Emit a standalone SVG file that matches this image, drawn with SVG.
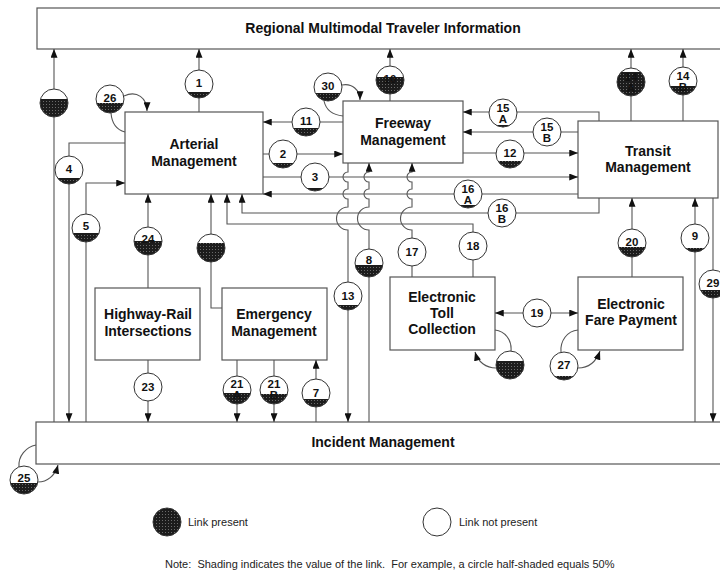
<svg xmlns="http://www.w3.org/2000/svg" xmlns:xlink="http://www.w3.org/1999/xlink" width="720" height="574" viewBox="0 0 720 574">
<style>
.box{fill:#fff;stroke:#555;stroke-width:1.2}
.bt{font-family:"Liberation Sans",Arial,sans-serif;font-weight:bold;font-size:14px;text-anchor:middle;fill:#111}
.c{fill:none;stroke:#555;stroke-width:1.1}
.cl{font-family:"Liberation Sans",Arial,sans-serif;font-weight:bold;font-size:11.5px;text-anchor:middle;fill:#111}
.lt{font-family:"Liberation Sans",Arial,sans-serif;font-size:11px;fill:#222}
.sh{fill:url(#stip)}
</style>
<defs>
<pattern id="stip" width="3" height="3" patternUnits="userSpaceOnUse"><rect width="3" height="3" fill="#1c1c1c"/><rect x="1" y="1" width="1" height="1" fill="#6a6a6a"/></pattern>
<marker id="ah" viewBox="0 0 10 8" refX="10" refY="4" markerWidth="9" markerHeight="7" markerUnits="userSpaceOnUse" orient="auto-start-reverse"><path d="M0,0 L10,4 L0,8 z" fill="#111"/></marker>
<circle id="cw" r="14" fill="#fff"/>
<circle id="co" r="14" fill="none" stroke="#333" stroke-width="1"/>
<path id="f2" class="sh" d="M-7.21,12 A14,14 0 0 0 7.21,12Z"/>
<path id="f3" class="sh" d="M-8.66,11 A14,14 0 0 0 8.66,11Z"/>
<path id="f4" class="sh" d="M-9.8,10 A14,14 0 0 0 9.8,10Z"/>
<path id="f5" class="sh" d="M-10.72,9 A14,14 0 0 0 10.72,9Z"/>
<path id="f6" class="sh" d="M-11.49,8 A14,14 0 0 0 11.49,8Z"/>
<path id="f7" class="sh" d="M-12.12,7 A14,14 0 0 0 12.12,7Z"/>
<path id="f8" class="sh" d="M-12.65,6 A14,14 0 0 0 12.65,6Z"/>
<path id="f9" class="sh" d="M-13.08,5 A14,14 0 0 0 13.08,5Z"/>
<path id="f10" class="sh" d="M-13.42,4 A14,14 0 0 0 13.42,4Z"/>
<path id="f11" class="sh" d="M-13.67,3 A14,14 0 0 0 13.67,3Z"/>
<path id="f12" class="sh" d="M-13.86,2 A14,14 0 0 0 13.86,2Z"/>
<path id="f14" class="sh" d="M-14,0 A14,14 0 0 0 14,0Z"/>
<path id="f17" class="sh" d="M-13.67,-3 A14,14 0 1 0 13.67,-3Z"/>
<path id="f18" class="sh" d="M-13.42,-4 A14,14 0 1 0 13.42,-4Z"/>
<path id="f19" class="sh" d="M-13.08,-5 A14,14 0 1 0 13.08,-5Z"/>
<path id="f24" class="sh" d="M-9.8,-10 A14,14 0 1 0 9.8,-10Z"/>
</defs>
<rect width="720" height="574" fill="#fff"/>

<g id="regional-multimodal-traveler-information"><rect class="box" x="37" y="8" width="700" height="41"/><text class="bt" x="383" y="33">Regional Multimodal Traveler Information</text></g>
<g id="incident-management"><rect class="box" x="36" y="422" width="700" height="42"/><text class="bt" x="383" y="447">Incident Management</text></g>
<g id="arterial-management"><rect class="box" x="125" y="112" width="138" height="82"/><text class="bt" x="194" y="149">Arterial</text><text class="bt" x="194" y="166">Management</text></g>
<g id="freeway-management"><rect class="box" x="343" y="101" width="120" height="62"/><text class="bt" x="403" y="128">Freeway</text><text class="bt" x="403" y="145">Management</text></g>
<g id="transit-management"><rect class="box" x="578" y="121" width="140" height="77"/><text class="bt" x="648" y="156">Transit</text><text class="bt" x="648" y="172">Management</text></g>
<g id="highway-rail-intersections"><rect class="box" x="95" y="288" width="105" height="72"/><text class="bt" x="148" y="319">Highway-Rail</text><text class="bt" x="148" y="336">Intersections</text></g>
<g id="emergency-management"><rect class="box" x="222" y="288" width="105" height="72"/><text class="bt" x="274" y="319">Emergency</text><text class="bt" x="274" y="336">Management</text></g>
<g id="electronic-toll-collection"><rect class="box" x="390" y="277" width="105" height="73"/><text class="bt" x="442" y="302">Electronic</text><text class="bt" x="442" y="318">Toll</text><text class="bt" x="442" y="334">Collection</text></g>
<g id="electronic-fare-payment"><rect class="box" x="578" y="277" width="105" height="73"/><text class="bt" x="631" y="309">Electronic</text><text class="bt" x="631" y="325">Fare Payment</text></g>

<g id="connectors" class="c" marker-end="url(#ah)">
<path d="M54,422 V49"/>
<path d="M199,112 V49"/>
<path d="M390,101 V49"/>
<path d="M631,121 V49"/>
<path d="M683,121 V49"/>
<path d="M343,122 H263"/>
<path d="M263,154 H343"/>
<path d="M263,177 H578"/>
<path d="M578,194 H263"/>
<path d="M599,121 V112 H463"/>
<path d="M578,132 H463"/>
<path d="M463,153 H578"/>
<path d="M599,198 V213 H242 V194"/>
<path d="M473,277 V224 H227 V194"/>
<path d="M125,143 H69 V422"/>
<path d="M86,422 V183 H125"/>
<path d="M148,288 V194"/>
<path d="M222,308 H211 V194"/>
<path d="M148,360 V422"/>
<path d="M237,360 V422"/>
<path d="M274,360 V422"/>
<path d="M316,422 V360"/>
<path d="M348,163 V172 A5,5 0 0 0 348,182 V189 A5,5 0 0 0 348,199 V207 A11.5,11.5 0 0 0 348,230 V422"/>
<path d="M369,422 V230 A11.5,11.5 0 0 1 369,207 V199 A5,5 0 0 1 369,189 V182 A5,5 0 0 1 369,172 V163"/>
<path d="M412,277 V230 A11.5,11.5 0 0 1 412,207 V199 A5,5 0 0 1 412,189 V182 A5,5 0 0 1 412,172 V163"/>
<path d="M632,277 V198"/>
<path d="M695,422 V198"/>
<path d="M713,198 V422"/>
<path d="M495,313 H578" marker-start="url(#ah)"/>
<path d="M124,96 C137,90 147,98 147,111"/>
<path d="M111,113 C112,125 117,130 125,132" marker-end="none"/>
<path d="M342,85 C352,83 360,90 360,100"/>
<path d="M324,101 C326,110 333,115 343,116" marker-end="none"/>
<path d="M19,467 C18,456 26,447 36,445" marker-end="none"/>
<path d="M38,482 C47,482 55,476 58,465"/>
<path d="M495,330 C505,331 512,340 511,351" marker-end="none"/>
<path d="M496,368 C486,368 478,362 475,352"/>
<path d="M561,352 C560,341 567,331 578,330" marker-end="none"/>
<path d="M578,368 C588,368 596,362 600,351"/>
</g>

<g id="link-circles">
<g id="link-unlabeled-left" transform="translate(54,103)"><use href="#cw"/><use href="#f18"/><use href="#co"/></g>
<g id="link-26" transform="translate(110,99)"><use href="#cw"/><use href="#f10"/><use href="#co"/><text class="cl" y="3">26</text></g>
<g id="link-1" transform="translate(199,84)"><use href="#cw"/><use href="#f6"/><use href="#co"/><text class="cl" y="3">1</text></g>
<g id="link-30" transform="translate(328,87)"><use href="#cw"/><use href="#f8"/><use href="#co"/><text class="cl" y="3">30</text></g>
<g id="link-10" transform="translate(390,80)"><use href="#cw"/><use href="#f17"/><use href="#co"/><text class="cl" y="3">10</text></g>
<g id="link-11" transform="translate(306,122)"><use href="#cw"/><use href="#f8"/><use href="#co"/><text class="cl" y="3">11</text></g>
<g id="link-2" transform="translate(283,154)"><use href="#cw"/><use href="#f5"/><use href="#co"/><text class="cl" y="4">2</text></g>
<g id="link-3" transform="translate(315,177)"><use href="#cw"/><use href="#f3"/><use href="#co"/><text class="cl" y="4">3</text></g>
<g id="link-15a" transform="translate(503,113)"><use href="#cw"/><use href="#f2"/><use href="#co"/><text class="cl" y="-1">15</text><text class="cl" y="10">A</text></g>
<g id="link-15b" transform="translate(547,132)"><use href="#cw"/><use href="#co"/><text class="cl" y="-1">15</text><text class="cl" y="10">B</text></g>
<g id="link-12" transform="translate(510,154)"><use href="#cw"/><use href="#f7"/><use href="#co"/><text class="cl" y="3">12</text></g>
<g id="link-14a" transform="translate(631,82)"><use href="#cw"/><use href="#f24"/><use href="#co"/><text class="cl" y="-1">14</text><text class="cl" y="10">A</text></g>
<g id="link-14b" transform="translate(683,81)"><use href="#cw"/><use href="#f9"/><use href="#co"/><text class="cl" y="-1">14</text><text class="cl" y="10">B</text></g>
<g id="link-16a" transform="translate(468,194)"><use href="#cw"/><use href="#f3"/><use href="#co"/><text class="cl" y="-1">16</text><text class="cl" y="10">A</text></g>
<g id="link-16b" transform="translate(502,213)"><use href="#cw"/><use href="#co"/><text class="cl" y="-1">16</text><text class="cl" y="10">B</text></g>
<g id="link-4" transform="translate(69,170)"><use href="#cw"/><use href="#f6"/><use href="#co"/><text class="cl" y="3">4</text></g>
<g id="link-5" transform="translate(86,228)"><use href="#cw"/><use href="#f9"/><use href="#co"/><text class="cl" y="2">5</text></g>
<g id="link-24" transform="translate(148,241)"><use href="#cw"/><use href="#f14"/><use href="#co"/><text class="cl" y="2">24</text></g>
<g id="link-unlabeled-emergency" transform="translate(211,248)"><use href="#cw"/><use href="#f19"/><use href="#co"/></g>
<g id="link-18" transform="translate(473,246)"><use href="#cw"/><use href="#co"/><text class="cl" y="4">18</text></g>
<g id="link-17" transform="translate(412,252)"><use href="#cw"/><use href="#co"/><text class="cl" y="4">17</text></g>
<g id="link-8" transform="translate(369,263)"><use href="#cw"/><use href="#f12"/><use href="#co"/><text class="cl" y="1">8</text></g>
<g id="link-13" transform="translate(348,296)"><use href="#cw"/><use href="#f5"/><use href="#co"/><text class="cl" y="4">13</text></g>
<g id="link-20" transform="translate(632,243)"><use href="#cw"/><use href="#f10"/><use href="#co"/><text class="cl" y="3">20</text></g>
<g id="link-9" transform="translate(695,238)"><use href="#cw"/><use href="#f4"/><use href="#co"/><text class="cl" y="2">9</text></g>
<g id="link-29" transform="translate(713,284)"><use href="#cw"/><use href="#f8"/><use href="#co"/><text class="cl" y="3">29</text></g>
<g id="link-19" transform="translate(537,313)"><use href="#cw"/><use href="#co"/><text class="cl" y="4">19</text></g>
<g id="link-unlabeled-toll" transform="translate(510,365)"><use href="#cw"/><use href="#f18"/><use href="#co"/></g>
<g id="link-27" transform="translate(564,366)"><use href="#cw"/><use href="#f4"/><use href="#co"/><text class="cl" y="3">27</text></g>
<g id="link-23" transform="translate(148,387)"><use href="#cw"/><use href="#co"/><text class="cl" y="4">23</text></g>
<g id="link-21a" transform="translate(237,390)"><use href="#cw"/><use href="#f11"/><use href="#co"/><text class="cl" y="-2">21</text><text class="cl" y="9">A</text></g>
<g id="link-21b" transform="translate(274,390)"><use href="#cw"/><use href="#f10"/><use href="#co"/><text class="cl" y="-2">21</text><text class="cl" y="9">B</text></g>
<g id="link-7" transform="translate(316,393)"><use href="#cw"/><use href="#f8"/><use href="#co"/><text class="cl" y="4">7</text></g>
<g id="link-25" transform="translate(24,480)"><use href="#cw"/><use href="#f11"/><use href="#co"/><text class="cl" y="2">25</text></g>
</g>

<g id="legend">
<g transform="translate(167,522)"><circle r="14" class="sh"/><use href="#co"/></g>
<text class="lt" x="188" y="526">Link present</text>
<g transform="translate(437,522)"><use href="#cw"/><use href="#co"/></g>
<text class="lt" x="459" y="526">Link not present</text>
<text class="lt" x="165" y="568" font-size="10" xml:space="preserve">Note:  Shading indicates the value of the link.  For example, a circle half-shaded equals 50%</text>
</g>
</svg>
